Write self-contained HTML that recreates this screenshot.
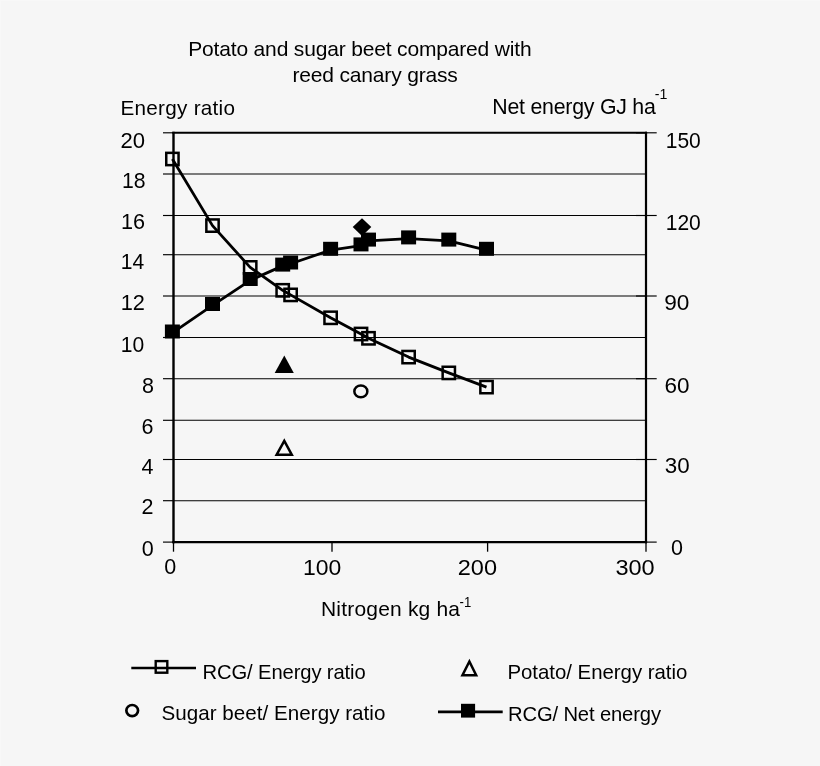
<!DOCTYPE html>
<html><head><meta charset="utf-8"><style>
html,body{margin:0;padding:0;background:#f6f6f6;width:820px;height:766px;overflow:hidden}
svg{display:block;will-change:transform}
text{font-family:"Liberation Sans", sans-serif;fill:#000}
</style></head><body>
<svg width="820" height="766" viewBox="0 0 820 766">
<rect x="0" y="0" width="820" height="766" fill="#f6f6f6"/>
<rect x="0" y="0" width="820" height="1" fill="#f8f8f8"/>
<rect x="0" y="0" width="1" height="766" fill="#f8f8f8"/>
<line x1="173.5" y1="174.0" x2="646.0" y2="174.0" stroke="#000" stroke-width="1.1"/>
<line x1="173.5" y1="215.5" x2="646.0" y2="215.5" stroke="#000" stroke-width="1.1"/>
<line x1="173.5" y1="254.7" x2="646.0" y2="254.7" stroke="#000" stroke-width="1.1"/>
<line x1="173.5" y1="296.0" x2="646.0" y2="296.0" stroke="#000" stroke-width="1.1"/>
<line x1="173.5" y1="337.5" x2="646.0" y2="337.5" stroke="#000" stroke-width="1.1"/>
<line x1="173.5" y1="378.7" x2="646.0" y2="378.7" stroke="#000" stroke-width="1.1"/>
<line x1="173.5" y1="420.3" x2="646.0" y2="420.3" stroke="#000" stroke-width="1.1"/>
<line x1="173.5" y1="459.5" x2="646.0" y2="459.5" stroke="#000" stroke-width="1.1"/>
<line x1="173.5" y1="500.7" x2="646.0" y2="500.7" stroke="#000" stroke-width="1.1"/>
<line x1="163" y1="132.8" x2="173.5" y2="132.8" stroke="#000" stroke-width="1.15"/>
<line x1="163" y1="174.0" x2="173.5" y2="174.0" stroke="#000" stroke-width="1.15"/>
<line x1="163" y1="215.5" x2="173.5" y2="215.5" stroke="#000" stroke-width="1.15"/>
<line x1="163" y1="254.7" x2="173.5" y2="254.7" stroke="#000" stroke-width="1.15"/>
<line x1="163" y1="296.0" x2="173.5" y2="296.0" stroke="#000" stroke-width="1.15"/>
<line x1="163" y1="337.5" x2="173.5" y2="337.5" stroke="#000" stroke-width="1.15"/>
<line x1="163" y1="378.7" x2="173.5" y2="378.7" stroke="#000" stroke-width="1.15"/>
<line x1="163" y1="420.3" x2="173.5" y2="420.3" stroke="#000" stroke-width="1.15"/>
<line x1="163" y1="459.5" x2="173.5" y2="459.5" stroke="#000" stroke-width="1.15"/>
<line x1="163" y1="500.7" x2="173.5" y2="500.7" stroke="#000" stroke-width="1.15"/>
<line x1="163" y1="542.1" x2="173.5" y2="542.1" stroke="#000" stroke-width="1.15"/>
<line x1="636" y1="132.8" x2="656.7" y2="132.8" stroke="#000" stroke-width="1.15"/>
<line x1="636" y1="215.5" x2="656.7" y2="215.5" stroke="#000" stroke-width="1.15"/>
<line x1="636" y1="296.0" x2="656.7" y2="296.0" stroke="#000" stroke-width="1.15"/>
<line x1="636" y1="378.7" x2="656.7" y2="378.7" stroke="#000" stroke-width="1.15"/>
<line x1="636" y1="459.5" x2="656.7" y2="459.5" stroke="#000" stroke-width="1.15"/>
<line x1="636" y1="542.1" x2="656.7" y2="542.1" stroke="#000" stroke-width="1.15"/>
<line x1="173.5" y1="542.1" x2="173.5" y2="551.7" stroke="#000" stroke-width="1.3"/>
<line x1="332.0" y1="542.1" x2="332.0" y2="551.7" stroke="#000" stroke-width="1.3"/>
<line x1="487.6" y1="542.1" x2="487.6" y2="551.7" stroke="#000" stroke-width="1.3"/>
<line x1="646.0" y1="542.1" x2="646.0" y2="551.7" stroke="#000" stroke-width="1.3"/>
<line x1="172.3" y1="132.8" x2="647.1" y2="132.8" stroke="#000" stroke-width="2.1"/>
<line x1="172.3" y1="542.1" x2="647.1" y2="542.1" stroke="#000" stroke-width="2.3"/>
<line x1="173.5" y1="131.8" x2="173.5" y2="543.2" stroke="#000" stroke-width="2.4"/>
<line x1="646.0" y1="131.8" x2="646.0" y2="543.2" stroke="#000" stroke-width="2.2"/>
<path d="M172.40,159.00 L212.50,225.60 L250.20,267.40 L282.70,290.30 L290.60,294.90 L330.60,317.80 L361.00,334.00 L368.50,338.30 L408.60,357.10 L448.80,372.90 L486.50,387.10" fill="none" stroke="#000" stroke-width="2.8" stroke-linejoin="round"/>
<path d="M172.40,332.80 L212.50,305.30 L250.20,280.30 L282.70,265.90 L290.60,263.80 L330.60,250.10 L361.00,245.70 L368.50,240.90 L408.60,238.70 L448.80,240.90 L486.50,250.10" fill="none" stroke="#000" stroke-width="2.8" stroke-linejoin="round"/>
<rect x="166.25" y="152.85" width="12.30" height="12.30" fill="none" stroke="#000" stroke-width="2.5"/>
<rect x="206.35" y="219.45" width="12.30" height="12.30" fill="none" stroke="#000" stroke-width="2.5"/>
<rect x="244.05" y="261.25" width="12.30" height="12.30" fill="none" stroke="#000" stroke-width="2.5"/>
<rect x="276.55" y="284.15" width="12.30" height="12.30" fill="none" stroke="#000" stroke-width="2.5"/>
<rect x="284.45" y="288.75" width="12.30" height="12.30" fill="none" stroke="#000" stroke-width="2.5"/>
<rect x="324.45" y="311.65" width="12.30" height="12.30" fill="none" stroke="#000" stroke-width="2.5"/>
<rect x="354.85" y="327.85" width="12.30" height="12.30" fill="none" stroke="#000" stroke-width="2.5"/>
<rect x="362.35" y="332.15" width="12.30" height="12.30" fill="none" stroke="#000" stroke-width="2.5"/>
<rect x="402.45" y="350.95" width="12.30" height="12.30" fill="none" stroke="#000" stroke-width="2.5"/>
<rect x="442.65" y="366.75" width="12.30" height="12.30" fill="none" stroke="#000" stroke-width="2.5"/>
<rect x="480.35" y="380.95" width="12.30" height="12.30" fill="none" stroke="#000" stroke-width="2.5"/>
<rect x="164.90" y="324.50" width="15" height="14" fill="#000"/>
<rect x="205.00" y="297.00" width="15" height="14" fill="#000"/>
<rect x="242.70" y="272.00" width="15" height="14" fill="#000"/>
<rect x="275.20" y="257.60" width="15" height="14" fill="#000"/>
<rect x="283.10" y="255.50" width="15" height="14" fill="#000"/>
<rect x="323.10" y="241.80" width="15" height="14" fill="#000"/>
<rect x="353.50" y="237.40" width="15" height="14" fill="#000"/>
<rect x="361.00" y="232.60" width="15" height="14" fill="#000"/>
<rect x="401.10" y="230.40" width="15" height="14" fill="#000"/>
<rect x="441.30" y="232.60" width="15" height="14" fill="#000"/>
<rect x="479.00" y="241.80" width="15" height="14" fill="#000"/>
<path d="M362.0,218.29999999999998 L371.3,227.1 L362.0,235.9 L352.7,227.1 Z" fill="#000"/>
<path d="M284.3,355.5 L293.8,373 L274.7,373 Z" fill="#000"/>
<path d="M284.30,438.30 L293.90,455.90 L274.50,455.90 Z M284.28,443.48 L289.69,453.40 L278.75,453.40 Z" fill="#000" fill-rule="evenodd"/>
<ellipse cx="360.85" cy="391.4" rx="6.5" ry="5.95" fill="none" stroke="#000" stroke-width="2.5"/>
<line x1="131.3" y1="668" x2="196" y2="668" stroke="#000" stroke-width="2.6"/>
<rect x="155.70" y="661.10" width="11.60" height="11.60" fill="none" stroke="#000" stroke-width="2.4"/>
<path d="M469.40,658.80 L478.20,676.50 L460.40,676.50 Z M469.37,664.37 L474.17,674.00 L464.48,674.00 Z" fill="#000" fill-rule="evenodd"/>
<ellipse cx="132.2" cy="710.6" rx="5.85" ry="5.6" fill="none" stroke="#000" stroke-width="2.7"/>
<line x1="438" y1="711.9" x2="502.7" y2="711.9" stroke="#000" stroke-width="2.6"/>
<rect x="461" y="703.8" width="14.1" height="13.8" fill="#000"/>
<g>
<text x="188.2" y="55.7" font-size="21" text-anchor="start" textLength="343.45" lengthAdjust="spacing">Potato and sugar beet compared with</text>
<text x="292.48" y="81.7" font-size="21" text-anchor="start" textLength="165.36" lengthAdjust="spacing">reed canary grass</text>
<text x="120.46" y="114.79" font-size="20.7" text-anchor="start" textLength="114.49" lengthAdjust="spacing">Energy ratio</text>
<text x="492.34" y="113.78" font-size="21.3" text-anchor="start" textLength="163.46" lengthAdjust="spacing">Net energy GJ ha</text>
<text x="654.7" y="98.97" font-size="15.2" text-anchor="start" textLength="12.64" lengthAdjust="spacingAndGlyphs">-1</text>
<text x="120.5" y="147.57" font-size="21.5" text-anchor="start" textLength="24.55" lengthAdjust="spacingAndGlyphs">20</text>
<text x="121.96" y="188.31" font-size="21.5" text-anchor="start" textLength="23.59" lengthAdjust="spacingAndGlyphs">18</text>
<text x="120.96" y="229.27" font-size="21.5" text-anchor="start" textLength="24.07" lengthAdjust="spacingAndGlyphs">16</text>
<text x="120.7" y="269.31" font-size="21.5" text-anchor="start" textLength="23.43" lengthAdjust="spacingAndGlyphs">14</text>
<text x="120.7" y="309.53" font-size="21.5" text-anchor="start" textLength="24.23" lengthAdjust="spacingAndGlyphs">12</text>
<text x="120.7" y="352.31" font-size="21.5" text-anchor="start" textLength="23.43" lengthAdjust="spacingAndGlyphs">10</text>
<text x="142.02" y="392.81" font-size="21.5" text-anchor="start">8</text>
<text x="141.5" y="434.03" font-size="21.5" text-anchor="start">6</text>
<text x="141.54" y="473.55" font-size="21.5" text-anchor="start">4</text>
<text x="141.5" y="514.27" font-size="21.5" text-anchor="start">2</text>
<text x="141.78" y="555.53" font-size="21.5" text-anchor="start">0</text>
<text x="665.72" y="147.57" font-size="21.5" text-anchor="start" textLength="35.07" lengthAdjust="spacingAndGlyphs">150</text>
<text x="665.72" y="230.29" font-size="21.5" text-anchor="start" textLength="35.07" lengthAdjust="spacingAndGlyphs">120</text>
<text x="664.22" y="309.79" font-size="21.5" text-anchor="start" textLength="25.19" lengthAdjust="spacingAndGlyphs">90</text>
<text x="664.48" y="392.79" font-size="21.5" text-anchor="start" textLength="25.03" lengthAdjust="spacingAndGlyphs">60</text>
<text x="664.74" y="472.79" font-size="21.5" text-anchor="start" textLength="24.87" lengthAdjust="spacingAndGlyphs">30</text>
<text x="671.02" y="555.27" font-size="21.5" text-anchor="start">0</text>
<text x="164.16" y="574.34" font-size="21.5" text-anchor="start">0</text>
<text x="302.98" y="574.55" font-size="21.5" text-anchor="start" textLength="38.27" lengthAdjust="spacingAndGlyphs">100</text>
<text x="457.76" y="574.55" font-size="21.5" text-anchor="start" textLength="39.23" lengthAdjust="spacingAndGlyphs">200</text>
<text x="615.48" y="574.53" font-size="21.5" text-anchor="start" textLength="39.23" lengthAdjust="spacingAndGlyphs">300</text>
<text x="320.94" y="615.52" font-size="21" text-anchor="start" textLength="139.12" lengthAdjust="spacing">Nitrogen kg ha</text>
<text x="459.58" y="607.15" font-size="15.2" text-anchor="start" textLength="11.68" lengthAdjust="spacingAndGlyphs">-1</text>
<text x="202.48" y="678.7" font-size="20.2" text-anchor="start" textLength="163.26" lengthAdjust="spacing">RCG/ Energy ratio</text>
<text x="507.46" y="678.6" font-size="20.4" text-anchor="start" textLength="179.82" lengthAdjust="spacing">Potato/ Energy ratio</text>
<text x="161.48" y="720.44" font-size="20.6" text-anchor="start" textLength="223.94" lengthAdjust="spacing">Sugar beet/ Energy ratio</text>
<text x="507.98" y="721.44" font-size="20.2" text-anchor="start" textLength="153.0" lengthAdjust="spacing">RCG/ Net energy</text>
</g>
</svg>
</body></html>
